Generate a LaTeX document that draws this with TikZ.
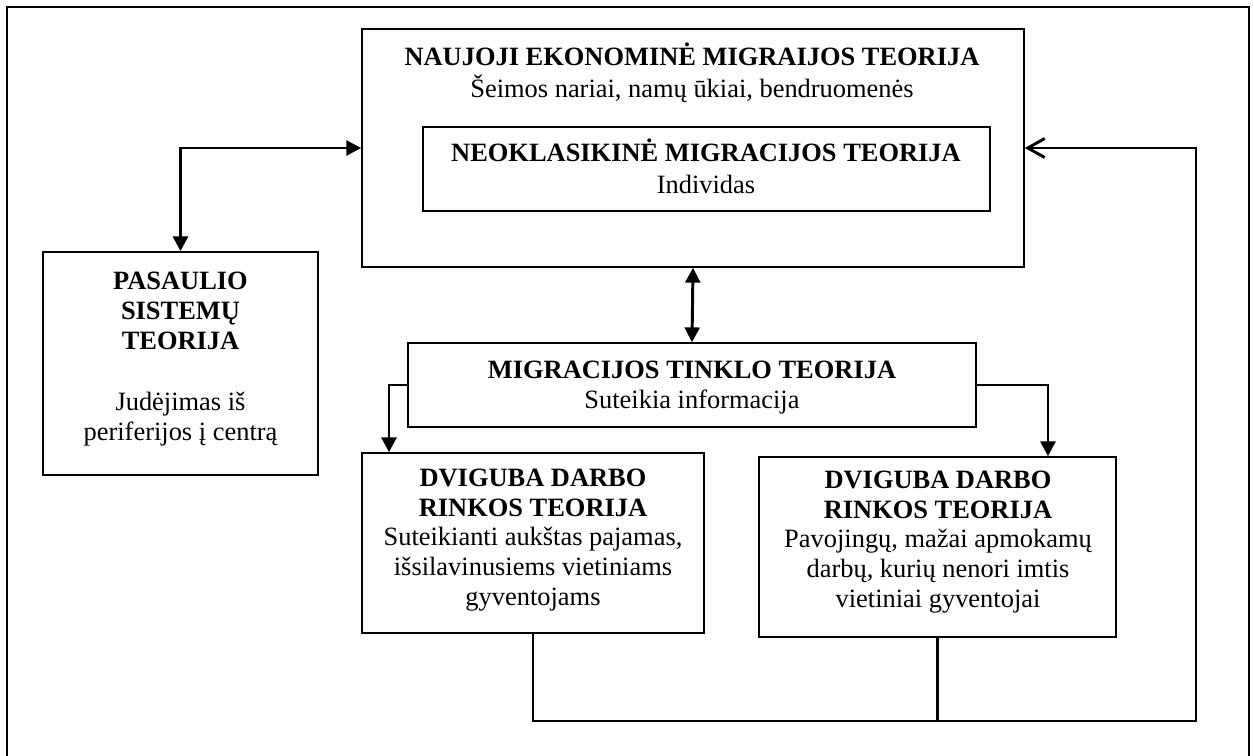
\documentclass[tikz,border=0pt]{standalone}
\usepackage{fontspec}
\setmainfont{Liberation Serif}
\usetikzlibrary{arrows.meta}
\def\mypx{0.473pt}
\tikzset{
  box/.style={draw, line width=0.75pt, rectangle, inner sep=0pt},
  txt/.style={align=center, inner sep=0pt, anchor=base},
  link/.style={line width=1.4pt},
  tip/.style={-{Triangle[length=7pt,width=7pt]}},
  dbl/.style={{Triangle[length=7pt,width=7pt]}-{Triangle[length=7pt,width=7pt]}}
}
\begin{document}
\begin{tikzpicture}[x=\mypx, y=-\mypx, font=\fontsize{12.5}{14}\selectfont]
  \useasboundingbox (0,0) rectangle (1254,756);
  % outer frame, open at the bottom
  \draw[line width=1pt] (7,756) -- (7,7) -- (1249,7) -- (1249,756);

  % boxes
  \node[box, minimum width=662*\mypx, minimum height=238*\mypx] (naujoji) at (693,148) {};
  \node[box, minimum width=567*\mypx, minimum height=84*\mypx] (neoklas) at (706.5,169) {};
  \node[box, minimum width=275*\mypx, minimum height=223*\mypx] (pasaulio) at (180.5,363.5) {};
  \node[box, minimum width=568*\mypx, minimum height=84*\mypx] (tinklo) at (692,385) {};
  \node[box, minimum width=342*\mypx, minimum height=180*\mypx] (dvigA) at (533,543) {};
  \node[box, minimum width=357*\mypx, minimum height=180*\mypx] (dvigB) at (937.5,547) {};

  % texts (placed by their last line)
  \node[txt] (naujojiT) at (692,97) {\textbf{NAUJOJI EKONOMINĖ MIGRAIJOS TEORIJA}\\[1pt]
    Šeimos nariai, namų ūkiai, bendruomenės};
  \node[txt] (neoklasT) at (706,193) {\textbf{NEOKLASIKINĖ MIGRACIJOS TEORIJA}\\[1pt] Individas};
  \node[txt] (pasaulioT) at (180.5,440) {\textbf{PASAULIO}\\ \textbf{SISTEMŲ}\\ \textbf{TEORIJA}\\[15pt]
    Judėjimas iš\\ periferijos į centrą};
  \node[txt] (tinkloT) at (692,408) {\textbf{MIGRACIJOS TINKLO TEORIJA}\\ Suteikia informacija};
  \node[txt] (dvigAT) at (533,605) {\textbf{DVIGUBA DARBO}\\ \textbf{RINKOS TEORIJA}\\
    Suteikianti aukštas pajamas,\\ išsilavinusiems vietiniams\\ gyventojams};
  \node[txt] (dvigBT) at (938,607) {\textbf{DVIGUBA DARBO}\\ \textbf{RINKOS TEORIJA}\\
    Pavojingų, mažai apmokamų\\ darbų, kurių nenori imtis\\ vietiniai gyventojai};

  % connectors
  \coordinate (toA) at (389,453);
  \coordinate (toB) at (1048,457);
  \coordinate (back) at (1196,721);
  \draw[link, dbl] (pasaulio.north) |- (naujoji.west);
  \draw[link, dbl] (naujoji.south) -- (tinklo.north);
  \draw[link, tip] (tinklo.west) -| (toA |- dvigA.north);
  \draw[link, tip] (tinklo.east) -| (toB |- dvigB.north);
  \draw[link, -{Straight Barb[length=8pt,width=9pt]}] (dvigA.south) |- (back) |- (naujoji.east);
  \draw[link] (dvigB.south) -- (dvigB.south |- back);
\end{tikzpicture}
\end{document}
